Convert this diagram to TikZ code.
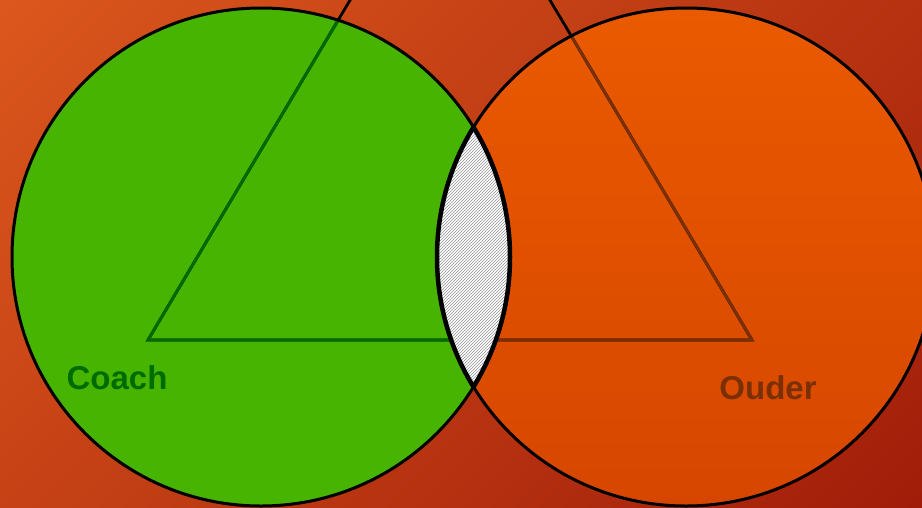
\documentclass[tikz,border=0pt]{standalone}
\usepackage{fontspec}
\setmainfont{Liberation Sans}
\usetikzlibrary{patterns}
\definecolor{bglight}{RGB}{222, 90, 30}
\definecolor{bgdark}{RGB}{158, 26, 8}
\definecolor{coachgreen}{RGB}{70, 180, 0}
\definecolor{coachdark}{RGB}{0, 108, 0}
\definecolor{oudertop}{RGB}{234, 90, 0}
\definecolor{ouderbottom}{RGB}{214, 70, 0}
\definecolor{ouderdark}{RGB}{122, 48, 4}

\begin{document}
\begin{tikzpicture}[x=1pt, y=-1pt]
    \tikzstyle{ring} = [draw=black, line width=3pt]
    \tikzstyle{tri} = [line width=2.8pt, line join=miter]
    \tikzstyle{setname} = [font=\bfseries\fontsize{33}{33}\selectfont, inner sep=0pt]

    \useasboundingbox (0,0) rectangle (922,507);
    \clip (0,0) rectangle (922,507);

    % background
    \shade[top color=bglight, bottom color=bgdark, shading angle=45] (-200,-200) rectangle (1122,707);

    % the two sets
    \fill[coachgreen] (261,257) circle[radius=249pt];
    \shade[top color=oudertop, bottom color=ouderbottom] (686,257) circle[radius=249pt];

    % triangle, tinted inside each set
    \coordinate (top) at (450,-168);
    \coordinate (left) at (148,340);
    \coordinate (right) at (752,340);
    \draw[tri, black] (top) -- (left) -- (right) -- cycle;
    \begin{scope}
        \clip (261,257) circle[radius=249pt];
        \draw[tri, coachdark] (top) -- (left) -- (right) -- cycle;
    \end{scope}
    \begin{scope}
        \clip (686,257) circle[radius=249pt];
        \draw[tri, ouderdark] (top) -- (left) -- (right) -- cycle;
    \end{scope}

    % overlap
    \begin{scope}
        \clip (261,257) circle[radius=249pt];
        \fill[white] (686,257) circle[radius=249pt];
        \fill[pattern=north east lines, pattern color=gray!85] (686,257) circle[radius=249pt];
        \draw[line width=4.5pt] (686,257) circle[radius=249pt];
    \end{scope}
    \begin{scope}
        \clip (686,257) circle[radius=249pt];
        \draw[line width=4.5pt] (261,257) circle[radius=249pt];
    \end{scope}

    \draw[ring] (261,257) circle[radius=249pt];
    \draw[ring] (686,257) circle[radius=249pt];

    \node[setname, text=coachdark] (coach) at (117,378) {Coach};
    \node[setname, text=ouderdark] (ouder) at (768,388) {Ouder};
\end{tikzpicture}
\end{document}
